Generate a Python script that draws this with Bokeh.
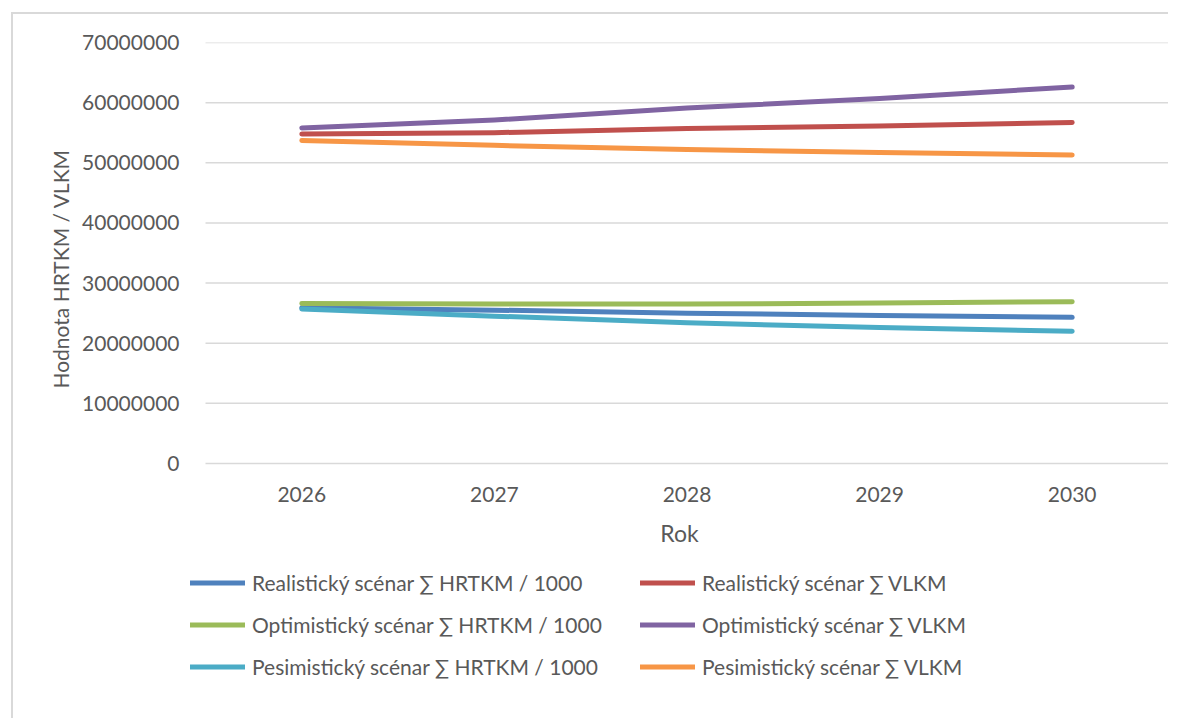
from bokeh.plotting import figure
from bokeh.models import Legend, LegendItem, FixedTicker, BasicTickFormatter, Range1d, Title
from bokeh.embed import file_html
from bokeh.resources import INLINE

years = [2026, 2027, 2028, 2029, 2030]
real_hrtkm = [25900000, 25500000, 25000000, 24600000, 24300000]
real_vlkm = [54800000, 55000000, 55700000, 56100000, 56700000]
opt_hrtkm = [26600000, 26500000, 26500000, 26700000, 26900000]
opt_vlkm = [55800000, 57100000, 59100000, 60700000, 62600000]
pes_hrtkm = [25700000, 24500000, 23400000, 22600000, 22000000]
pes_vlkm = [53700000, 52900000, 52200000, 51700000, 51300000]
y_ticks = [0, 10000000, 20000000, 30000000, 40000000, 50000000, 60000000, 70000000]

series = [
    ("Realistický scénar ∑ HRTKM / 1000", real_hrtkm, "#4F81BD"),
    ("Realistický scénar ∑ VLKM", real_vlkm, "#C0504D"),
    ("Optimistický scénar ∑ HRTKM / 1000", opt_hrtkm, "#9BBB59"),
    ("Optimistický scénar ∑ VLKM", opt_vlkm, "#8064A2"),
    ("Pesimistický scénar ∑ HRTKM / 1000", pes_hrtkm, "#4BACC6"),
    ("Pesimistický scénar ∑ VLKM", pes_vlkm, "#F79646"),
]

FONT = "Lato"
TXT = "#595959"
GRID = "#d9d9d9"

# layout (pixels)
W, H = 1157, 706
LEFT, RIGHT, TOP = 177, 2, 28
PLOT_LEFT_PAD = 15          # legend starts 15px left of the category area
PLOT_H = 421                # height of 0..70M area
FRAME_H = H - TOP
FRAME_W = W - LEFT - RIGHT
y_hi = y_ticks[-1]
y_lo = -y_hi * (FRAME_H - PLOT_H) / PLOT_H
x_hi = years[-1] + 0.5
x_lo_cat = years[0] - 0.5
x_lo = x_hi - (x_hi - x_lo_cat) * FRAME_W / (FRAME_W - PLOT_LEFT_PAD)

p = figure(width=W, height=H, output_backend="svg", toolbar_location=None,
           x_range=Range1d(x_lo, x_hi), y_range=Range1d(y_lo, y_hi),
           min_border_left=LEFT, min_border_right=RIGHT, min_border_top=TOP, min_border_bottom=0)
p.styles = {"margin-left": "11px", "margin-top": "12px",
            "border-left": "2px solid #d9d9d9", "border-top": "2px solid #d9d9d9"}
p.outline_line_color = None
p.xgrid.grid_line_color = None
p.ygrid.grid_line_color = None

# horizontal gridlines over the category area only
p.segment(x0=[x_lo_cat] * len(y_ticks), x1=[x_hi] * len(y_ticks), y0=y_ticks, y1=y_ticks,
          line_color=GRID, line_width=1.5)

p.yaxis.ticker = FixedTicker(ticks=y_ticks)
p.yaxis.formatter = BasicTickFormatter(use_scientific=False)
p.yaxis.axis_line_color = None
p.yaxis.major_tick_line_color = None
p.yaxis.minor_tick_line_color = None
p.yaxis.major_label_standoff = 5
p.yaxis.major_label_text_font = FONT
p.yaxis.major_label_text_font_size = "21px"
p.yaxis.major_label_text_color = TXT

ytitle = Title(text="Hodnota HRTKM / VLKM", align="left", offset=332, standoff=14,
               text_font=FONT, text_font_size="21px", text_font_style="normal", text_color=TXT)
p.add_layout(ytitle, "left")

p.xaxis.fixed_location = 0
p.xaxis.ticker = FixedTicker(ticks=years)
p.xaxis.axis_line_color = None
p.xaxis.major_tick_line_color = None
p.xaxis.minor_tick_line_color = None
p.xaxis.major_label_standoff = 17
p.xaxis.major_label_text_font = FONT
p.xaxis.major_label_text_font_size = "21px"
p.xaxis.major_label_text_color = TXT
p.xaxis.axis_label = "Rok"
p.xaxis.axis_label_text_font = FONT
p.xaxis.axis_label_text_font_size = "23px"
p.xaxis.axis_label_text_font_style = "normal"
p.xaxis.axis_label_text_color = TXT
p.xaxis.axis_label_standoff = 14

items = {}
for label, vals, color in series:
    r = p.line(years, vals, line_color=color, line_width=5, line_cap="round", line_join="round")
    items[label] = LegendItem(label=label, renderers=[r])

legend_order = [series[0][0], series[2][0], series[4][0], series[1][0], series[3][0], series[5][0]]
legend = Legend(items=[items[k] for k in legend_order], location=(0, 41),
                orientation="vertical", ncols=2,
                glyph_width=55, glyph_height=25, label_height=25, label_width=371,
                label_standoff=7, spacing=17, padding=0, margin=0,
                border_line_color=None, background_fill_alpha=0,
                label_text_font=FONT, label_text_font_size="21px", label_text_color=TXT)
p.add_layout(legend, "center")

open("out.html", "w").write(file_html(p, INLINE))
